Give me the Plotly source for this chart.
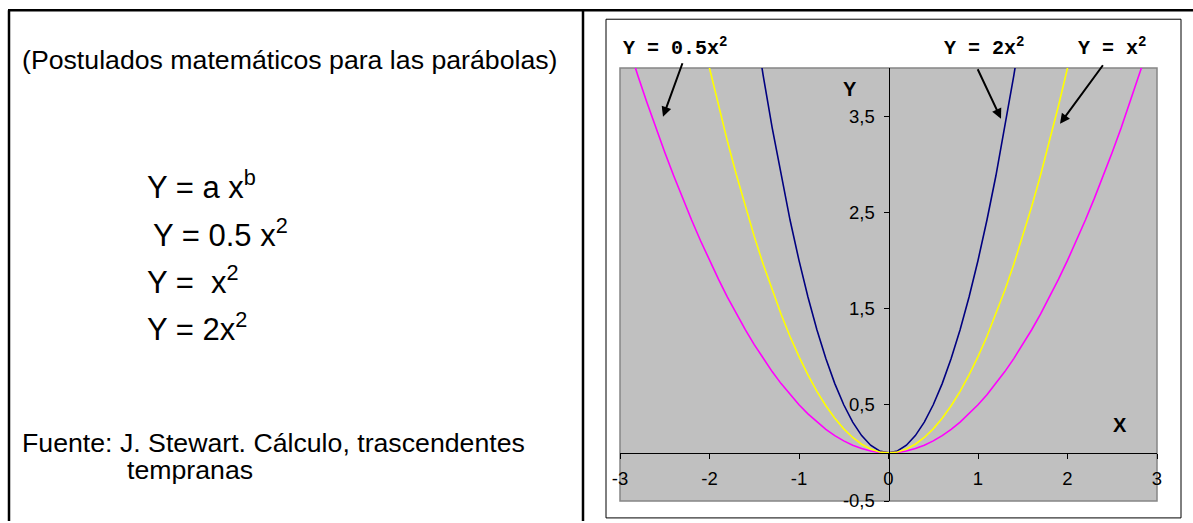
import plotly.graph_objects as go

# ---- data -----------------------------------------------------------------
X_VALUES = [-3.0, -2.9, -2.8, -2.7, -2.6, -2.5, -2.4, -2.3, -2.2, -2.1,
            -2.0, -1.9, -1.8, -1.7, -1.6, -1.5, -1.4, -1.3, -1.2, -1.1,
            -1.0, -0.9, -0.8, -0.7, -0.6, -0.5, -0.4, -0.3, -0.2, -0.1,
            0.0, 0.1, 0.2, 0.3, 0.4, 0.5, 0.6, 0.7, 0.8, 0.9,
            1.0, 1.1, 1.2, 1.3, 1.4, 1.5, 1.6, 1.7, 1.8, 1.9,
            2.0, 2.1, 2.2, 2.3, 2.4, 2.5, 2.6, 2.7, 2.8, 2.9, 3.0]

# Y = 0.5 x^2
Y_HALF = [4.5, 4.205, 3.92, 3.645, 3.38, 3.125, 2.88, 2.645, 2.42, 2.205,
          2.0, 1.805, 1.62, 1.445, 1.28, 1.125, 0.98, 0.845, 0.72, 0.605,
          0.5, 0.405, 0.32, 0.245, 0.18, 0.125, 0.08, 0.045, 0.02, 0.005,
          0.0, 0.005, 0.02, 0.045, 0.08, 0.125, 0.18, 0.245, 0.32, 0.405,
          0.5, 0.605, 0.72, 0.845, 0.98, 1.125, 1.28, 1.445, 1.62, 1.805,
          2.0, 2.205, 2.42, 2.645, 2.88, 3.125, 3.38, 3.645, 3.92, 4.205, 4.5]

# Y = x^2
Y_ONE = [9.0, 8.41, 7.84, 7.29, 6.76, 6.25, 5.76, 5.29, 4.84, 4.41,
         4.0, 3.61, 3.24, 2.89, 2.56, 2.25, 1.96, 1.69, 1.44, 1.21,
         1.0, 0.81, 0.64, 0.49, 0.36, 0.25, 0.16, 0.09, 0.04, 0.01,
         0.0, 0.01, 0.04, 0.09, 0.16, 0.25, 0.36, 0.49, 0.64, 0.81,
         1.0, 1.21, 1.44, 1.69, 1.96, 2.25, 2.56, 2.89, 3.24, 3.61,
         4.0, 4.41, 4.84, 5.29, 5.76, 6.25, 6.76, 7.29, 7.84, 8.41, 9.0]

# Y = 2 x^2
Y_TWO = [18.0, 16.82, 15.68, 14.58, 13.52, 12.5, 11.52, 10.58, 9.68, 8.82,
         8.0, 7.22, 6.48, 5.78, 5.12, 4.5, 3.92, 3.38, 2.88, 2.42,
         2.0, 1.62, 1.28, 0.98, 0.72, 0.5, 0.32, 0.18, 0.08, 0.02,
         0.0, 0.02, 0.08, 0.18, 0.32, 0.5, 0.72, 0.98, 1.28, 1.62,
         2.0, 2.42, 2.88, 3.38, 3.92, 4.5, 5.12, 5.78, 6.48, 7.22,
         8.0, 8.82, 9.68, 10.58, 11.52, 12.5, 13.52, 14.58, 15.68, 16.82, 18.0]

X_TICKS = [-3, -2, -1, 0, 1, 2, 3]
X_TICK_TEXT = ["-3", "-2", "-1", "0", "1", "2", "3"]
Y_TICKS = [-0.5, 0.5, 1.5, 2.5, 3.5]
Y_TICK_TEXT = ["-0,5", "0,5", "1,5", "2,5", "3,5"]

X_RANGE = [-3, 3]
Y_RANGE = [-0.5, 4]

# ---- page geometry (pixels) ----------------------------------------------
W, H = 1193, 523
ML, MR, MT, MB = 620, 36, 68, 20
PW, PH = W - ML - MR, H - MT - MB


def fx(px):
    return (px - ML) / PW


def fy(py):
    return (H - MB - py) / PH


SANS = "Liberation Sans, Arial, sans-serif"
MONO = "Liberation Mono, Courier New, monospace"

fig = go.Figure()

for ys, color in [(Y_TWO, "#000080"), (Y_HALF, "#FF00FF"), (Y_ONE, "#FFFF00")]:
    fig.add_trace(go.Scatter(x=X_VALUES, y=ys, mode="lines",
                             line=dict(color=color, width=1.6),
                             hoverinfo="skip", showlegend=False))

# axes crossing at the origin
x_cross = (0 - Y_RANGE[0]) / (Y_RANGE[1] - Y_RANGE[0])
y_cross = (0 - X_RANGE[0]) / (X_RANGE[1] - X_RANGE[0])

tick_font = dict(family=SANS, size=18.5, color="#000000")
fig.update_layout(
    width=W, height=H,
    margin=dict(l=ML, r=MR, t=MT, b=MB, pad=0),
    paper_bgcolor="white",
    plot_bgcolor="#C0C0C0",
    xaxis=dict(range=X_RANGE, anchor="free", position=x_cross,
               tickvals=X_TICKS, ticktext=X_TICK_TEXT,
               showgrid=False, zeroline=False,
               showline=True, linecolor="#000000", linewidth=1,
               ticks="outside", ticklen=5, tickcolor="#000000", tickwidth=1,
               ticklabelstandoff=4, tickfont=tick_font),
    yaxis=dict(range=Y_RANGE, anchor="free", position=y_cross,
               tickvals=Y_TICKS, ticktext=Y_TICK_TEXT,
               showgrid=False, zeroline=False,
               showline=True, linecolor="#000000", linewidth=1,
               ticks="outside", ticklen=5, tickcolor="#000000", tickwidth=1,
               ticklabelstandoff=5, tickfont=tick_font),
)

shapes = [
    # plot area border
    dict(type="rect", xref="paper", yref="paper", x0=0, x1=1, y0=0, y1=1,
         line=dict(color="#858585", width=1.5), layer="below"),
    # chart frame
    dict(type="rect", xref="paper", yref="paper",
         x0=fx(606), x1=fx(1181), y0=fy(520), y1=fy(19),
         line=dict(color="#000000", width=1), layer="below"),
    # table rules
    dict(type="line", xref="paper", yref="paper",
         x0=fx(8), x1=fx(1193), y0=fy(10), y1=fy(10),
         line=dict(color="#000000", width=2.5)),
    dict(type="line", xref="paper", yref="paper",
         x0=fx(9), x1=fx(9), y0=fy(10), y1=fy(523),
         line=dict(color="#000000", width=2.5)),
    dict(type="line", xref="paper", yref="paper",
         x0=fx(583), x1=fx(583), y0=fy(10), y1=fy(523),
         line=dict(color="#000000", width=2.5)),
]
fig.update_layout(shapes=shapes)

annotations = []


def text(px, py, s, size, family=SANS, anchor="left"):
    annotations.append(dict(xref="paper", yref="paper", x=fx(px), y=fy(py),
                            xanchor=anchor, yanchor="middle", text=s,
                            showarrow=False,
                            font=dict(family=family, size=size, color="#000000")))


# left panel
text(20, 60, "(Postulados matemáticos para las parábolas)", 26.7)
text(145, 186, "Y = a x<sup>b</sup>", 31)
text(151, 234, "Y = 0.5 x<sup>2</sup>", 31)
text(145, 281, "Y =\u00a0\u00a0x<sup>2</sup>", 31)
text(145, 328, "Y = 2x<sup>2</sup>", 31)
text(20, 445, "Fuente: J. Stewart. Cálculo, trascendentes", 26.7)
text(125, 472, "tempranas", 26.7)

# curve labels
text(621, 47, "<b>Y = 0.5x<sup>2</sup></b>", 20, MONO)
text(942, 47, "<b>Y = 2x<sup>2</sup></b>", 20, MONO)
text(1076, 47, "<b>Y = x<sup>2</sup></b>", 20, MONO)

# axis names
text(850, 89, "<b>Y</b>", 20, anchor="center")
text(1120, 427, "<b>X</b>", 20, anchor="center")

# arrows: (head x, head y, tail dx, tail dy) in pixels
for hx, hy, dx, dy in [(663, 117, 20, -55), (1001, 119, -24, -51), (1060, 124, 44, -60)]:
    annotations.append(dict(xref="paper", yref="paper", x=fx(hx), y=fy(hy),
                            ax=dx, ay=dy, text="", showarrow=True,
                            arrowhead=2, arrowsize=1, arrowwidth=2,
                            arrowcolor="#000000", standoff=0))

fig.update_layout(annotations=annotations)

fig.write_html("out.html", config={"displayModeBar": False})
